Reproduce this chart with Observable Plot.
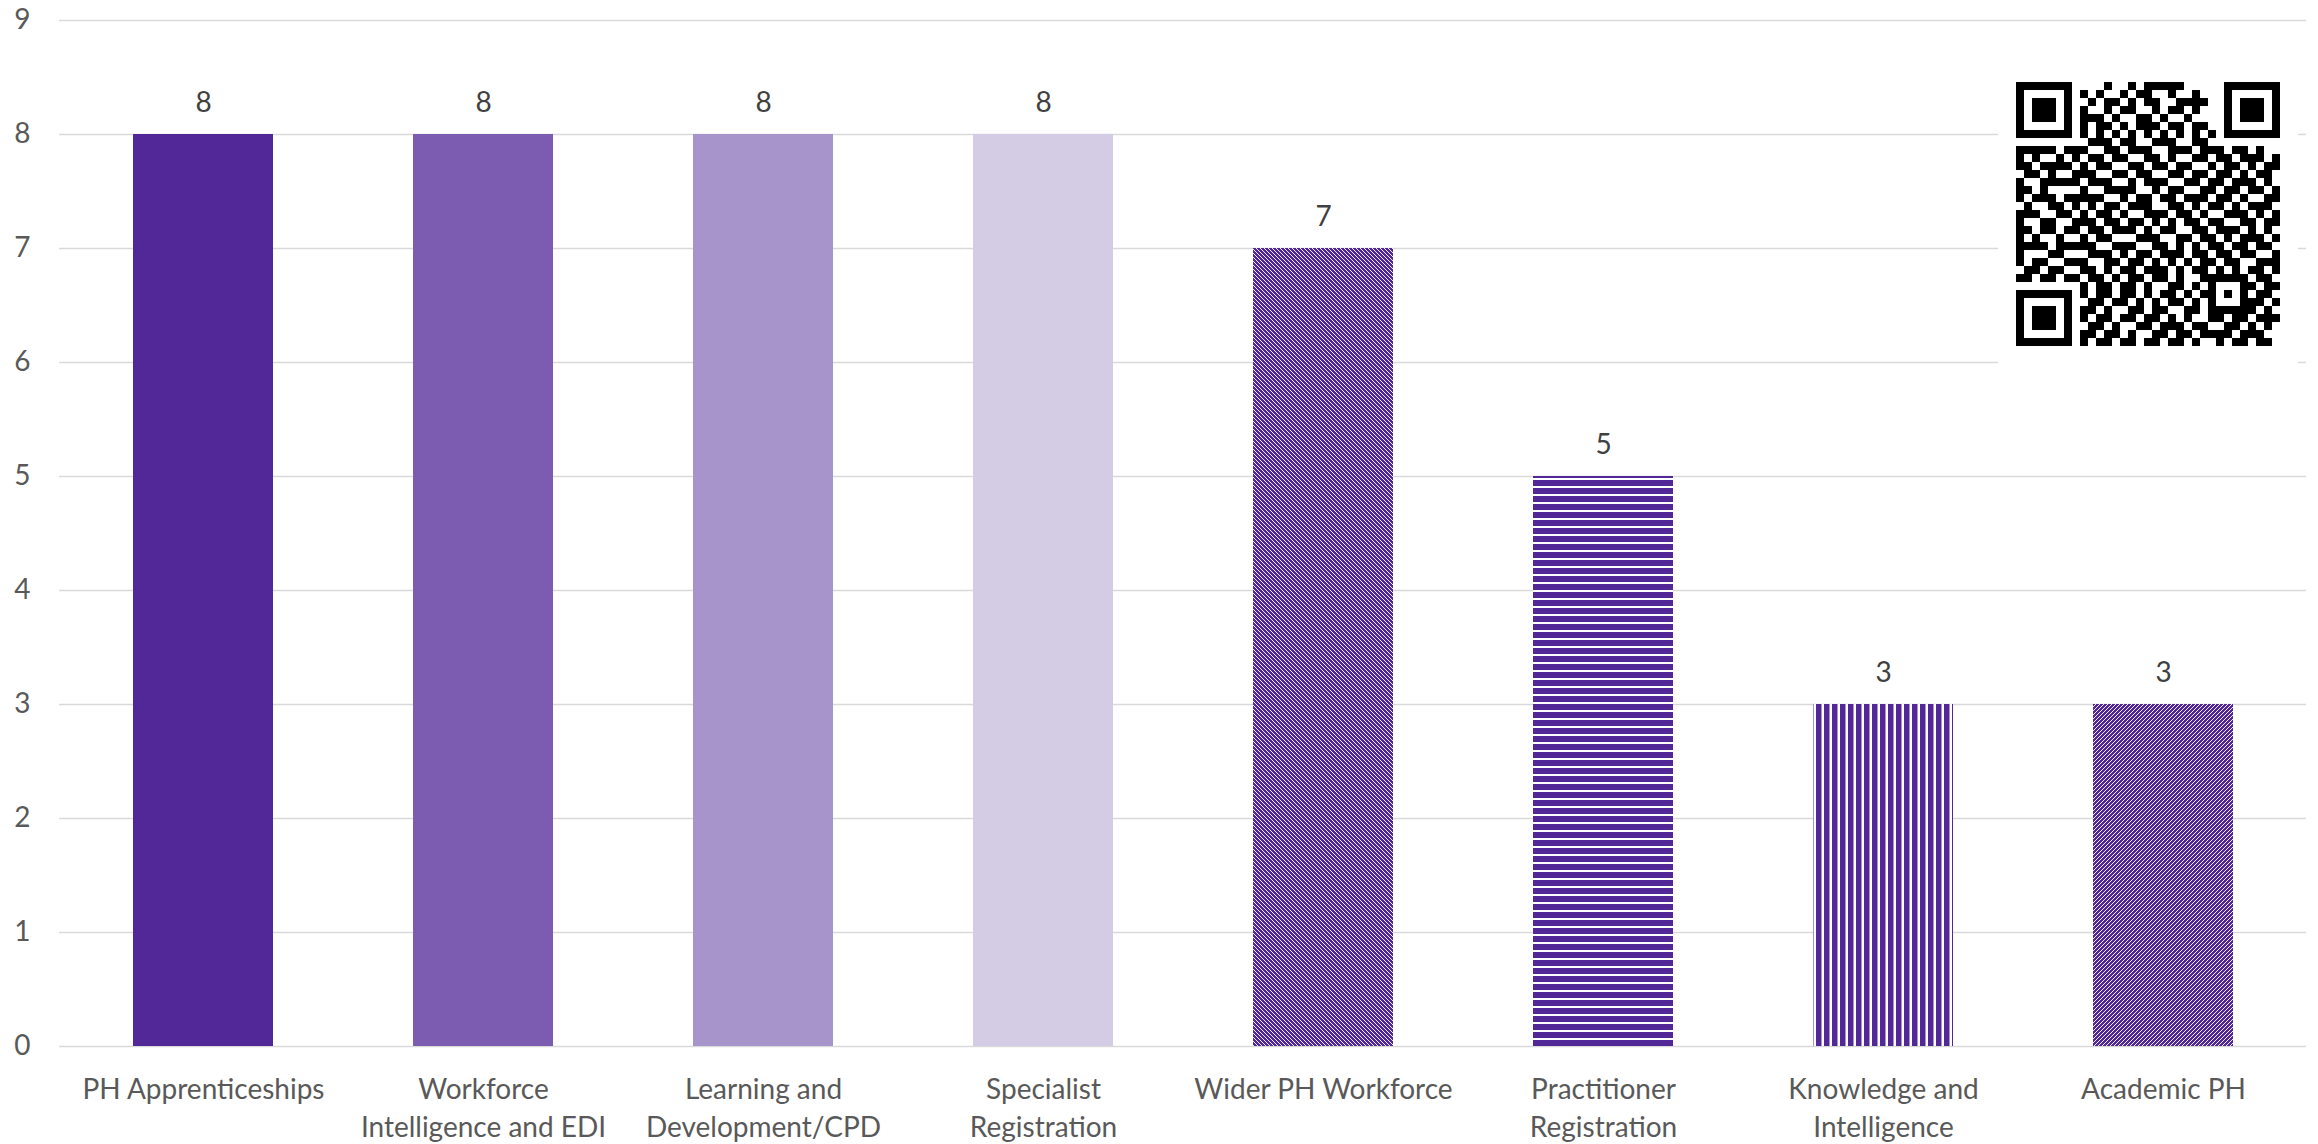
<!DOCTYPE html>
<html>
<head>
<meta charset="utf-8">
<script src="https://cdn.jsdelivr.net/npm/d3@7"></script>
<script src="https://cdn.jsdelivr.net/npm/@observablehq/plot@0.6"></script>
<style>
html, body { margin: 0; padding: 0; background: #fff; }
#wrap { position: relative; width: 2318px; height: 1144px; overflow: hidden; background: #fff; }
#qr { position: absolute; left: 1998px; top: 63px; }
</style>
</head>
<body>
<div id="wrap"><div id="chart"></div><div id="qr"></div></div>
<script>
// ---- data ----
const categories = [
  "PH Apprenticeships",
  "Workforce Intelligence and EDI",
  "Learning and Development/CPD",
  "Specialist Registration",
  "Wider PH Workforce",
  "Practitioner Registration",
  "Knowledge and Intelligence",
  "Academic PH"
];
const tickLabels = [
  "PH Apprenticeships",
  "Workforce\nIntelligence and EDI",
  "Learning and\nDevelopment/CPD",
  "Specialist\nRegistration",
  "Wider PH Workforce",
  "Practitioner\nRegistration",
  "Knowledge and\nIntelligence",
  "Academic PH"
];
const values = [8, 8, 8, 8, 7, 5, 3, 3];
const yTicks = [0, 1, 2, 3, 4, 5, 6, 7, 8, 9];
const barFills = ["#522798", "#7C5CB1", "#A794CB", "#D4CBE5",
  "url(#pat-down)", "url(#pat-horiz)", "url(#pat-vert)", "url(#pat-up)"];

// QR code modules (33 x 33)
const qrRows = [
  "111111100001001011111000001111111",
  "100000101010010110010010001000001",
  "101110100101101011001111001011101",
  "101110101001011001011010001011101",
  "101110101110100110100100001011101",
  "100000101011010111011011001000001",
  "111111101010101010101010101111111",
  "000000000111011001110011000000000",
  "111110111001101110011101110110100",
  "101001010110110011010011011011101",
  "110111101011001101101100101101011",
  "011010011100110110011011011010110",
  "100111110111001011100110110111010",
  "110100001001111001011001101101101",
  "101110111110010110110111011010011",
  "010011010101101110011010110101110",
  "111001101011010011101101001110101",
  "100110011101101101010110110011011",
  "110110110110111010110011011101010",
  "101001001011000111001101101011101",
  "111101111100111001101010110110110",
  "100011000111010110111011011011001",
  "101100111001101101010101101100111",
  "011011001101011011101011010101101",
  "110110110110101101101001111110110",
  "000000001011011010011010100011011",
  "111111101011011010110101101010110",
  "100000100110110101011010100011101",
  "101110101101001101100110111111010",
  "101110101011011011010100110110111",
  "101110100110100110111011001101010",
  "100000101101101001101101111011100",
  "111111101011011011011010010110110"
];

const labelOf = new Map(categories.map((c, i) => [c, tickLabels[i]]));
const data = categories.map((c, i) => ({category: c, value: values[i], fill: barFills[i]}));

const font = "Lato, 'Open Sans', sans-serif";
const fs = 28;

const chart = Plot.plot({
  width: 2318,
  height: 1144,
  marginLeft: 59,
  marginRight: 12,
  marginTop: 20,
  marginBottom: 98,
  style: {fontFamily: font, background: "white", overflow: "visible"},
  x: {domain: categories, paddingInner: 0.5, paddingOuter: 0.25, label: null},
  y: {domain: [0, 9], label: null},
  marks: [
    Plot.ruleY(yTicks, {stroke: "#d9d9d9", strokeWidth: 1.6}),
    Plot.barY(data, {x: "category", y: "value", fill: "fill"}),
    Plot.text(data, {x: "category", y: "value", text: d => String(d.value), dy: -31, fontSize: fs, fill: "#404040"}),
    Plot.axisY(yTicks, {tickSize: 0, tickPadding: 29, fontSize: fs, color: "#595959", label: null, tickFormat: d3.format("d")}),
    Plot.axisX({tickSize: 0, tickPadding: 25, fontSize: fs, color: "#595959", lineHeight: 1.36,
      tickFormat: c => labelOf.get(c), label: null})
  ]
});

// stripe patterns for the hatched bars
const svg = d3.select(chart);
const defs = svg.insert("defs", ":first-child");
const purple = "#522798";
function pattern(id, w, h, build) {
  const p = defs.append("pattern").attr("id", id).attr("patternUnits", "userSpaceOnUse")
    .attr("width", w).attr("height", h);
  p.append("rect").attr("width", w).attr("height", h).attr("fill", purple);
  build(p);
}
pattern("pat-down", 4, 4, p => p.append("path")
  .attr("d", "M-1,-1L5,5M-1,3L1,5M3,-1L5,1").attr("stroke", "#fff").attr("stroke-width", 0.9));
pattern("pat-up", 4, 4, p => p.append("path")
  .attr("d", "M-1,5L5,-1M-1,1L1,-1M3,5L5,3").attr("stroke", "#fff").attr("stroke-width", 0.9));
pattern("pat-horiz", 8, 8, p => p.append("rect")
  .attr("x", 0).attr("y", 6).attr("width", 8).attr("height", 2).attr("fill", "#fff"));
pattern("pat-vert", 8, 8, p => p.append("rect")
  .attr("x", 5.5).attr("y", 0).attr("width", 2.5).attr("height", 8).attr("fill", "#fff"));

document.getElementById("chart").append(chart);

// QR code
const qrCells = [];
qrRows.forEach((row, r) => row.split("").forEach((ch, c) => { if (ch === "1") qrCells.push({r, c}); }));
const qr = Plot.plot({
  width: 300,
  height: 301,
  margin: 9,
  style: {background: "white"},
  x: {domain: d3.range(33), axis: null, padding: 0},
  y: {domain: d3.range(33), axis: null, padding: 0},
  marks: [
    Plot.cell(qrCells, {x: "c", y: "r", fill: "black", inset: -0.3, shapeRendering: "crispEdges"})
  ]
});
document.getElementById("qr").append(qr);
</script>
</body>
</html>
